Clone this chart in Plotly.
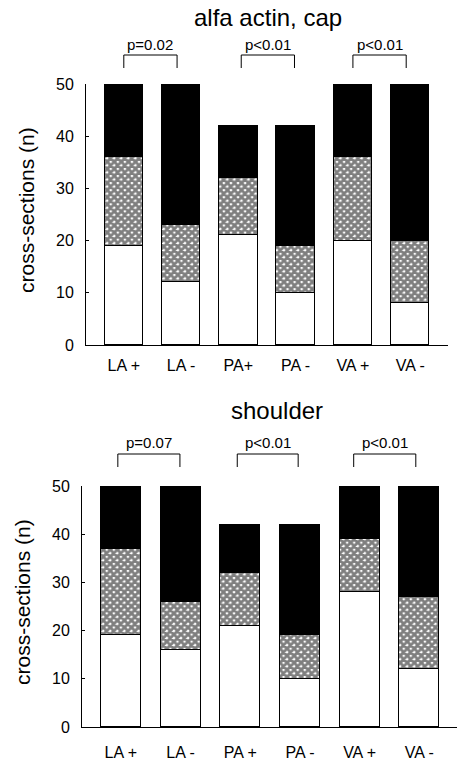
import plotly.graph_objects as go

W, H = 458, 761

# ---------------- data ----------------
cats_top = ["LA +", "LA -", "PA+", "PA -", "VA +", "VA -"]
white_top = [19, 12, 21, 10, 20, 8]
hatch_top = [17, 11, 11, 9, 16, 12]
black_top = [14, 27, 10, 23, 14, 30]

cats_bot = ["LA +", "LA -", "PA +", "PA -", "VA +", "VA -"]
white_bot = [19, 16, 21, 10, 28, 12]
hatch_bot = [18, 10, 11, 9, 11, 15]
black_bot = [13, 24, 10, 23, 11, 23]

pvals_top = ["p=0.02", "p<0.01", "p<0.01"]
pvals_bot = ["p=0.07", "p<0.01", "p<0.01"]
brackets_top = [(0.0, 0.93), (2.05, 2.98), (4.0, 4.93)]
brackets_bot = [(-0.05, 0.99), (1.95, 2.97), (3.9, 4.94)]

y_ticks = [0, 10, 20, 30, 40, 50]

FONT = "Arial, Liberation Sans, Helvetica, sans-serif"


def py(pix):
    return 1 - pix / H


fig = go.Figure()


def add_stack(cats, white, hatch, black, xa, ya):
    fig.add_trace(go.Bar(x=cats, y=white, xaxis=xa, yaxis=ya, width=0.67,
                         marker=dict(color="white", line=dict(color="black", width=1)),
                         showlegend=False, hoverinfo="skip"))
    fig.add_trace(go.Bar(x=cats, y=hatch, xaxis=xa, yaxis=ya, width=0.67,
                         marker=dict(color="white", line=dict(color="black", width=1),
                                     pattern=dict(shape="x", size=5, solidity=0.8,
                                                  fgcolor="black", bgcolor="white",
                                                  fillmode="overlay")),
                         showlegend=False, hoverinfo="skip"))
    fig.add_trace(go.Bar(x=cats, y=black, xaxis=xa, yaxis=ya, width=0.67,
                         marker=dict(color="black", line=dict(color="black", width=1)),
                         showlegend=False, hoverinfo="skip"))


add_stack(cats_top, white_top, hatch_top, black_top, "x", "y")
add_stack(cats_bot, white_bot, hatch_bot, black_bot, "x2", "y2")

axis_common = dict(showline=True, linecolor="black", linewidth=1, showgrid=False,
                   zeroline=False, tickfont=dict(family=FONT, size=16, color="black"))

fig.update_layout(
    width=W, height=H, barmode="stack", plot_bgcolor="white", paper_bgcolor="white",
    margin=dict(l=0, r=0, t=0, b=0, autoexpand=False), bargap=0,
    xaxis=dict(domain=[86 / W, 448 / W], range=[-0.66, 5.66], anchor="y",
               ticks="", ticklabelstandoff=6, automargin=False, **axis_common),
    yaxis=dict(domain=[py(345), py(84)], range=[0, 50], anchor="x",
               tickvals=y_ticks, ticks="inside", ticklen=3, tickcolor="black",
               ticklabelstandoff=8, automargin=False, **axis_common),
    xaxis2=dict(domain=[82 / W, 457 / W], range=[-0.65, 5.63], anchor="y2",
                ticks="", ticklabelstandoff=11, automargin=False, **axis_common),
    yaxis2=dict(domain=[py(727), py(486)], range=[0, 50], anchor="x2",
                tickvals=y_ticks, ticks="inside", ticklen=3, tickcolor="black",
                ticklabelstandoff=8, automargin=False, **axis_common),
)

ann = []
ann.append(dict(text="alfa actin, cap", x=268 / W, y=py(18), xref="paper", yref="paper",
                showarrow=False, xanchor="center", yanchor="middle",
                font=dict(family=FONT, size=24, color="black")))
ann.append(dict(text="shoulder", x=277 / W, y=py(410), xref="paper", yref="paper",
                showarrow=False, xanchor="center", yanchor="middle",
                font=dict(family=FONT, size=24, color="black")))
ann.append(dict(text="cross-sections (n)", x=27 / W, y=py(210), xref="paper", yref="paper",
                showarrow=False, textangle=-90, xanchor="center", yanchor="middle",
                font=dict(family=FONT, size=21, color="black")))
ann.append(dict(text="cross-sections (n)", x=22 / W, y=py(602), xref="paper", yref="paper",
                showarrow=False, textangle=-90, xanchor="center", yanchor="middle",
                font=dict(family=FONT, size=21, color="black")))

shapes = []
for (x0, x1), t in zip(brackets_top, pvals_top):
    shapes.append(dict(type="path", xref="x", yref="paper",
                       path=f"M {x0},{py(68)} L {x0},{py(55)} L {x1},{py(55)} L {x1},{py(68)}",
                       line=dict(color="black", width=1)))
    ann.append(dict(text=t, x=(x0 + x1) / 2, y=py(44), xref="x", yref="paper",
                    showarrow=False, xanchor="center", yanchor="middle",
                    font=dict(family=FONT, size=15, color="black")))
for (x0, x1), t in zip(brackets_bot, pvals_bot):
    shapes.append(dict(type="path", xref="x2", yref="paper",
                       path=f"M {x0},{py(467)} L {x0},{py(454)} L {x1},{py(454)} L {x1},{py(467)}",
                       line=dict(color="black", width=1)))
    ann.append(dict(text=t, x=(x0 + x1) / 2, y=py(442), xref="x2", yref="paper",
                    showarrow=False, xanchor="center", yanchor="middle",
                    font=dict(family=FONT, size=15, color="black")))

fig.update_layout(annotations=ann, shapes=shapes)

fig.write_html("out.html", config={"displayModeBar": False},
               post_script="document.body.style.margin='0';document.body.style.overflow='hidden';")
